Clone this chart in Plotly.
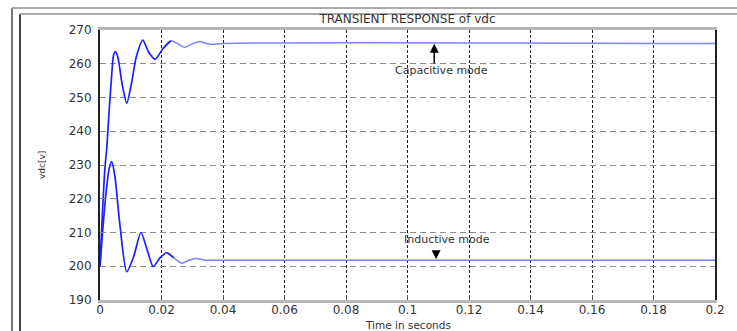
import plotly.graph_objects as go

# Settling of the DC-link voltage vdc for the two operating modes
t_cap = [0, 0.0008, 0.0016, 0.0022, 0.0029, 0.0038, 0.0044, 0.005, 0.0058,
         0.0072, 0.0087, 0.0102, 0.0118, 0.0139, 0.0158, 0.0179, 0.0205,
         0.023, 0.0252, 0.0274, 0.03, 0.0325, 0.0347, 0.0368, 0.04, 0.2]
v_cap = [200, 216, 229, 235, 245, 256.7, 262.5, 263.6, 262,
         254, 248.3, 254, 262, 267, 263.5, 261.3, 264.5,
         266.8, 266, 264.9, 265.9, 266.6, 266, 265.7, 266, 266]

t_ind = [0, 0.001, 0.002, 0.003, 0.0038, 0.0048, 0.0065, 0.0087, 0.011,
         0.0133, 0.0153, 0.0173, 0.0195, 0.0217, 0.024, 0.0266, 0.029,
         0.0314, 0.034, 0.04, 0.2]
v_ind = [200, 212, 222, 229, 231, 227, 212, 198.4, 203,
         210, 205, 199.9, 202.5, 204, 202.5, 200.9, 201.8,
         202.3, 201.8, 201.8, 201.8]

x_ticks = [0, 0.02, 0.04, 0.06, 0.08, 0.1, 0.12, 0.14, 0.16, 0.18, 0.2]
x_tick_text = ["0", "0.02", "0.04", "0.06", "0.08", "0.1", "0.12", "0.14", "0.16", "0.18", "0.2"]
y_ticks = [190, 200, 210, 220, 230, 240, 250, 260, 270]

FONT = "DejaVu Sans"
TXT = "#333333"
T_SPLIT = 0.022  # the trace is drawn lighter once the oscillation has decayed

fig = go.Figure()
for t, v in [(t_cap, v_cap), (t_ind, v_ind)]:
    k = next(i for i, ti in enumerate(t) if ti >= T_SPLIT)
    fig.add_trace(go.Scatter(
        x=t[k - 1:], y=v[k - 1:], mode="lines",
        line=dict(color="#8080ff", width=1.5, shape="spline", smoothing=0.7),
        showlegend=False, hoverinfo="skip"))
    fig.add_trace(go.Scatter(
        x=t[:k + 1], y=v[:k + 1], mode="lines",
        line=dict(color="#1f1fff", width=1.7, shape="spline", smoothing=0.7),
        showlegend=False, hoverinfo="skip"))

fig.update_xaxes(
    range=[0, 0.2], tickvals=x_ticks, ticktext=x_tick_text,
    showline=True, linecolor="#b5b5b5", linewidth=3, mirror=True,
    ticks="inside", ticklen=5, tickcolor="#555555",
    showgrid=True, gridcolor="#222222", gridwidth=1, griddash="3px,2px",
    zeroline=False, ticklabelstandoff=-3,
    tickfont=dict(family=FONT, size=12, color=TXT))
fig.update_yaxes(
    range=[190, 270], tickvals=y_ticks,
    showline=True, linecolor="#222222", linewidth=2, mirror=True,
    ticks="inside", ticklen=5, tickcolor="#888888",
    showgrid=True, gridcolor="#8c8c8c", gridwidth=1, griddash="6px,4px",
    zeroline=False, ticklabelstandoff=4,
    tickfont=dict(family=FONT, size=12, color=TXT))

# Mode labels with their arrows
fig.add_annotation(x=0.1087, y=265.9, ax=0.1087, ay=259.6,
                   xref="x", yref="y", axref="x", ayref="y",
                   text="", showarrow=True, arrowhead=2, arrowsize=1.2,
                   arrowwidth=1.5, arrowcolor="#000000")
fig.add_annotation(x=0.1109, y=257.9, xref="x", yref="y", text="Capacitive mode",
                   showarrow=False, xanchor="center", yanchor="middle",
                   font=dict(family=FONT, size=11, color=TXT))
fig.add_annotation(x=0.1093, y=202.1, ax=0.1093, ay=205.0,
                   xref="x", yref="y", axref="x", ayref="y",
                   text="", showarrow=True, arrowhead=2, arrowsize=1.2,
                   arrowwidth=1.5, arrowcolor="#000000")
fig.add_annotation(x=0.113, y=207.9, xref="x", yref="y", text="Inductive mode",
                   showarrow=False, xanchor="center", yanchor="middle",
                   font=dict(family=FONT, size=11, color=TXT))

# Axis titles
fig.add_annotation(x=0.5, y=-0.0926, xref="paper", yref="paper",
                   text="Time in seconds", showarrow=False,
                   xanchor="center", yanchor="middle",
                   font=dict(family=FONT, size=10.5, color=TXT))
fig.add_annotation(x=-0.0943, y=0.5, xref="paper", yref="paper",
                   text="vdc[v]", textangle=-90, showarrow=False,
                   xanchor="center", yanchor="middle",
                   font=dict(family=FONT, size=9, color=TXT))

# Window frame lines around the axes
frame = [
    (-0.1431, -0.2, -0.1431, 1.0815, "#777777"),
    (-0.1431, 1.0815, 1.1, 1.0815, "#aaaaaa"),
    (-0.1301, -0.2, -0.1301, 1.0593, "#444444"),
    (-0.1301, 1.0593, 1.1, 1.0593, "#aaaaaa"),
]
for x0, y0, x1, y1, c in frame:
    fig.add_shape(type="line", xref="paper", yref="paper",
                  x0=x0, y0=y0, x1=x1, y1=y1, line=dict(color=c, width=2))

fig.update_layout(
    width=737, height=331,
    margin=dict(l=100, r=22, t=30, b=31),
    paper_bgcolor="white", plot_bgcolor="white",
    title=dict(text="TRANSIENT RESPONSE of vdc", x=0.5, xref="paper",
               y=1 - 19 / 331, yref="container", yanchor="middle",
               font=dict(family=FONT, size=12, color=TXT)),
)

fig.write_html("out.html")
